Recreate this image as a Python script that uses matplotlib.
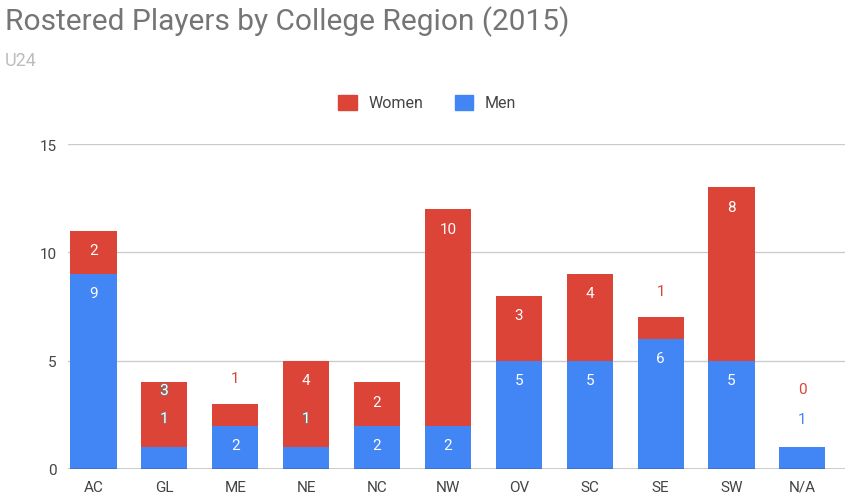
import matplotlib.pyplot as plt
import matplotlib.patheffects as pe
import numpy as np

regions = ['AC', 'GL', 'ME', 'NE', 'NC', 'NW', 'OV', 'SC', 'SE', 'SW', 'N/A']
men = [9, 1, 2, 1, 2, 2, 5, 5, 6, 5, 1]
women = [2, 3, 1, 4, 2, 10, 3, 4, 1, 8, 0]

BLUE = '#4285f4'
RED = '#db4437'

plt.rcParams['font.family'] = ['Roboto', 'DejaVu Sans']

fig = plt.figure(figsize=(8.5, 5.02), dpi=100)
ax = fig.add_axes([0.08, 0.064, 0.914, 0.647])
x = np.arange(len(regions))
w = 0.65
ax.bar(x, men, w, color=BLUE, zorder=2)
ax.bar(x, women, w, bottom=men, color=RED, zorder=2)

outline = [pe.withStroke(linewidth=1.2, foreground='#777777')]
for i in range(len(regions)):
    m, f = men[i], women[i]
    if regions[i] in ('GL', 'NE'):
        ax.text(i, 2.3, str(m), ha='center', va='center', color='white',
                fontsize=11, path_effects=outline, zorder=3)
        if regions[i] == 'GL':
            ax.text(i, 3.6, str(f), ha='center', va='center', color='white',
                    fontsize=11, path_effects=outline, zorder=3)
        else:
            ax.text(i, m + f - 0.9, str(f), ha='center', va='center',
                    color='white', fontsize=11, zorder=3)
        continue
    if regions[i] == 'N/A':
        ax.text(i, 2.3, str(m), ha='center', va='center', color=BLUE, fontsize=11)
        ax.text(i, 3.7, str(f), ha='center', va='center', color=RED, fontsize=11)
        continue
    ax.text(i, m - 0.9, str(m), ha='center', va='center', color='white', fontsize=11, zorder=3)
    if f >= 2:
        ax.text(i, m + f - 0.9, str(f), ha='center', va='center', color='white',
                fontsize=11, zorder=3)
    else:
        ax.text(i, m + f + 1.2, str(f), ha='center', va='center', color=RED, fontsize=11)

ax.set_xlim(-0.36, 10.6)
ax.set_ylim(0, 15)
ax.set_yticks([0, 5, 10, 15])
ax.set_xticks(x)
ax.set_xticklabels(regions)
ax.tick_params(length=0, labelsize=11, labelcolor='#444444', pad=8)
ax.grid(axis='y', color='#cccccc', linewidth=1, zorder=0)
for s in ax.spines.values():
    s.set_visible(False)
ax.axhline(0, color='#333333', linewidth=1, zorder=3)

fig.text(0.006, 0.957, 'Rostered Players by College Region (2015)', fontsize=21.5,
         color='#757575', va='center')
fig.text(0.006, 0.878, 'U24', fontsize=13, color='#bdbdbd', va='center')

# legend
fig.patches.append(plt.Rectangle((0.398, 0.778), 0.022, 0.03, color=RED,
                                 transform=fig.transFigure, figure=fig))
fig.text(0.433, 0.793, 'Women', fontsize=11.5, color='#444444', va='center')
fig.patches.append(plt.Rectangle((0.535, 0.778), 0.022, 0.03, color=BLUE,
                                 transform=fig.transFigure, figure=fig))
fig.text(0.57, 0.793, 'Men', fontsize=11.5, color='#444444', va='center')

fig.savefig('out.png', dpi=100, facecolor='white')
